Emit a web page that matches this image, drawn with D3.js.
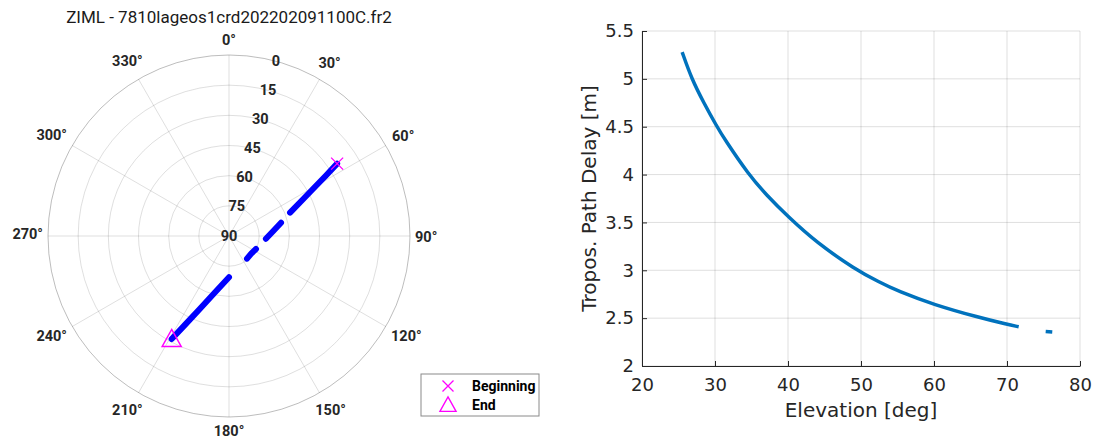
<!DOCTYPE html>
<html>
<head>
<meta charset="utf-8">
<script src="https://cdn.jsdelivr.net/npm/d3@7"></script>
<style>
  body { margin: 0; background: #fff; }
  svg { display: block; }
  .polar-lbl { font-family: Roboto, "Noto Sans", sans-serif; font-weight: bold; font-size: 14.5px; fill: #262626; }
  .axis text { font-family: "DejaVu Sans", sans-serif; font-size: 18px; fill: #262626; }
  .axis-label { font-family: "DejaVu Sans", sans-serif; font-size: 20px; fill: #262626; }
</style>
</head>
<body>
<svg id="fig"></svg>
<script>
// polar sky plot: azimuth [deg] / elevation [deg] of the pass, null = gap in data
const passAz = [56.2, 58.1, 60.5, 64.0, 69.1, null, 75.7, 83.2, 94.2, null, 115.7, 128.3, 141.6, null, 180.0, 194.2, 201.6, 206.1, 209.1];
const passEl = [25.3, 33.3, 41.5, 49.7, 57.5, null, 63.3, 67.7, 71.6, null, 75.1, 75.9, 75.6, null, 69.5, 60.9, 51.4, 41.5, 31.4];

const thetaTicks = d3.range(0, 360, 30);
const rTicks = [0, 15, 30, 45, 60, 75, 90];

// elevation vs. tropospheric delay
const elevDeg = [25.5, 26.8, 28.5, 30.2, 31.3, 34.6, 37.0, 40.0, 43.9, 49.2, 52.4, 55.1, 60.0, 66.0, 70.0, 71.6, null, 75.3, 76.2];
const delayM  = [5.28, 5.00, 4.745, 4.51, 4.37, 4.00, 3.79, 3.56, 3.29, 3.01, 2.88, 2.78, 2.64, 2.51, 2.435, 2.41, null, 2.36, 2.355];

const xTicks = [20, 30, 40, 50, 60, 70, 80];
const yTicks = [2, 2.5, 3, 3.5, 4, 4.5, 5, 5.5];

const titleText = 'ZIML - 7810lageos1crd202202091100C.fr2';
const legendLabels = ['Beginning', 'End'];

const svg = d3.select('#fig').attr('width', 1098).attr('height', 441);

// ---------------- polar plot ----------------
const cx = 229, cy = 236, R = 181;
const rScale = d3.scaleLinear().domain([90, 0]).range([0, R]);
const rad = d => d * Math.PI / 180;
const px = (az, el) => [rScale(el) * Math.sin(rad(az)), -rScale(el) * Math.cos(rad(az))];

const polar = svg.append('g').attr('transform', `translate(${cx},${cy})`);

svg.append('text')
    .attr('x', cx).attr('y', 23)
    .attr('text-anchor', 'middle')
    .style('font-family', 'Roboto, sans-serif')
    .style('font-size', '17px')
    .style('fill', '#1a1a1a')
    .text(titleText);

// grid circles
polar.selectAll('.ring')
    .data(rTicks.filter(d => d > 0 && d < 90))
    .join('circle')
    .attr('class', 'ring')
    .attr('r', d => rScale(d))
    .attr('fill', 'none')
    .attr('stroke', '#262626')
    .attr('stroke-opacity', 0.15);

// spokes
polar.selectAll('.spoke')
    .data(thetaTicks)
    .join('line')
    .attr('class', 'spoke')
    .attr('x1', 0).attr('y1', 0)
    .attr('x2', d => px(d, 0)[0])
    .attr('y2', d => px(d, 0)[1])
    .attr('stroke', '#262626')
    .attr('stroke-opacity', 0.15);

// outer boundary
polar.append('circle')
    .attr('r', rScale(0))
    .attr('fill', 'none')
    .attr('stroke', '#262626')
    .attr('stroke-opacity', 0.3);

// theta labels, pushed out by their own extent
const thetaLbl = polar.selectAll('.theta-lbl')
    .data(thetaTicks)
    .join('text')
    .attr('class', 'polar-lbl')
    .attr('text-anchor', 'middle')
    .attr('dominant-baseline', 'central')
    .text(d => d + '°');

thetaLbl.each(function(d) {
  const w = this.getBBox().width;
  const c = Math.cos(rad(d));
  const r = R + 5 + Math.abs(Math.sin(rad(d))) * w / 2 + Math.abs(c) * 11;
  d3.select(this)
      .attr('x', r * Math.sin(rad(d)))
      .attr('y', -r * c + (c >= 0 ? 1.5 : -1.5));
});

// r labels
polar.selectAll('.r-lbl')
    .data(rTicks)
    .join('text')
    .attr('class', 'polar-lbl')
    .attr('x', d => px(15, d)[0])
    .attr('y', d => px(15, d)[1])
    .attr('text-anchor', 'middle')
    .attr('dominant-baseline', 'central')
    .text(d => d);

// pass track
const passData = passAz.map((a, i) => ({az: a, el: passEl[i]}));
const radial = d3.lineRadial()
    .defined(d => d.az !== null)
    .angle(d => rad(d.az))
    .radius(d => rScale(d.el));

polar.append('path')
    .datum(passData)
    .attr('d', radial)
    .attr('fill', 'none')
    .attr('stroke', '#0000ff')
    .attr('stroke-width', 6)
    .attr('stroke-linecap', 'round');

const xPath = s => `M${-s},${-s}L${s},${s}M${-s},${s}L${s},${-s}`;
const triPath = 'M0,-9.5L9.5,7.5L-9.5,7.5Z';

const first = passData[0], last = passData[passData.length - 1];
polar.append('path')
    .attr('transform', `translate(${px(first.az, first.el)})`)
    .attr('d', xPath(6))
    .attr('fill', 'none').attr('stroke', '#ff00ff').attr('stroke-width', 1.3);

polar.append('path')
    .attr('transform', `translate(${px(last.az, last.el)})`)
    .attr('d', triPath)
    .attr('fill', 'none').attr('stroke', '#ff00ff').attr('stroke-width', 1.5);

// legend
const legend = svg.append('g').attr('transform', 'translate(421,374)');
legend.append('rect')
    .attr('width', 118).attr('height', 42)
    .attr('fill', '#fff').attr('stroke', '#8a8a8a').attr('stroke-width', 1);
legend.append('path')
    .attr('transform', 'translate(27,12)')
    .attr('d', xPath(5.5))
    .attr('fill', 'none').attr('stroke', '#ff00ff').attr('stroke-width', 1.3);
legend.append('path')
    .attr('transform', 'translate(27,31) scale(0.85)')
    .attr('d', triPath)
    .attr('fill', 'none').attr('stroke', '#ff00ff').attr('stroke-width', 1.6);
legend.selectAll('.leg-txt')
    .data(legendLabels)
    .join('text')
    .attr('class', 'polar-lbl')
    .style('font-size', '14px')
    .style('fill', '#000')
    .attr('x', 51)
    .attr('y', (d, i) => 12 + i * 19)
    .attr('dominant-baseline', 'central')
    .text(d => d);

// ---------------- elevation vs delay ----------------
const margin = {left: 642, top: 31, right: 1080, bottom: 366};
const width = margin.right - margin.left;
const height = margin.bottom - margin.top;

const xScale = d3.scaleLinear().domain([20, 80]).range([0, width]);
const yScale = d3.scaleLinear().domain([2, 5.5]).range([height, 0]);

const chart = svg.append('g').attr('transform', `translate(${margin.left},${margin.top})`);

// grid
chart.append('g')
    .selectAll('line')
    .data(xTicks)
    .join('line')
    .attr('x1', d => xScale(d)).attr('x2', d => xScale(d))
    .attr('y1', 0).attr('y2', height)
    .attr('stroke', '#262626').attr('stroke-opacity', 0.15);
chart.append('g')
    .selectAll('line')
    .data(yTicks)
    .join('line')
    .attr('y1', d => yScale(d)).attr('y2', d => yScale(d))
    .attr('x1', 0).attr('x2', width)
    .attr('stroke', '#262626').attr('stroke-opacity', 0.15);

const xAxis = d3.axisBottom(xScale)
    .tickValues(xTicks)
    .tickSizeInner(-5)
    .tickSizeOuter(0)
    .tickPadding(12)
    .tickFormat(d3.format('d'));

const yAxis = d3.axisLeft(yScale)
    .tickValues(yTicks)
    .tickSizeInner(-5)
    .tickSizeOuter(0)
    .tickPadding(8)
    .tickFormat(d => d);

const xAxisG = chart.append('g')
    .attr('class', 'axis x-axis')
    .attr('transform', `translate(0,${height})`)
    .call(xAxis);
const yAxisG = chart.append('g')
    .attr('class', 'axis y-axis')
    .call(yAxis);

chart.selectAll('.axis path, .axis line').attr('stroke', '#262626');
chart.selectAll('.axis text').attr('fill', null);

// curve
const delayData = elevDeg.map((e, i) => ({e: e, d: delayM[i]}));
const line = d3.line()
    .defined(d => d.e !== null)
    .x(d => xScale(d.e))
    .y(d => yScale(d.d))
    .curve(d3.curveBasis);

chart.append('path')
    .datum(delayData)
    .attr('d', line)
    .attr('fill', 'none')
    .attr('stroke', '#0072bd')
    .attr('stroke-width', 3.5);

// axis labels
chart.append('text')
    .attr('class', 'axis-label')
    .attr('x', width / 2)
    .attr('y', height + 51)
    .attr('text-anchor', 'middle')
    .text('Elevation [deg]');

chart.append('text')
    .attr('class', 'axis-label')
    .attr('transform', `translate(-46,${height / 2}) rotate(-90)`)
    .attr('text-anchor', 'middle')
    .text('Tropos. Path Delay [m]');
</script>
</body>
</html>
